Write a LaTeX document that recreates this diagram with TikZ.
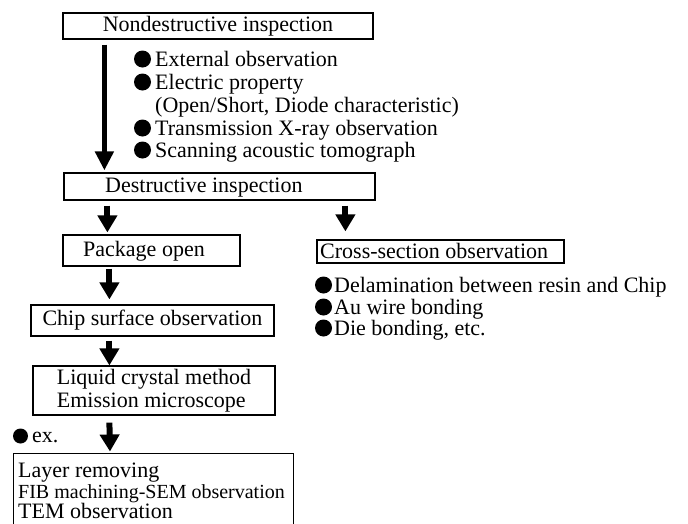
\documentclass[tikz,border=0pt]{standalone}
\usepackage{fontspec}
\setmainfont{Liberation Serif}
\usetikzlibrary{arrows.meta}
\begin{document}
\begin{tikzpicture}[x=1pt,y=-1pt,
  every node/.style={font=\fontsize{22}{23}\selectfont},
  box/.style={draw,line width=1.2pt,inner sep=0pt},
  txt/.style={anchor=base west,inner sep=0pt},
  dot/.style={circle,fill=black,inner sep=0pt,minimum size=17pt},
  bigarrow/.style={line width=5.5pt,-{Triangle[length=19pt,width=18pt]}},
  smallarrow/.style={line width=6pt,-{Triangle[length=17pt,width=19pt]}}]
\useasboundingbox (0,0) rectangle (688,523);
\clip (0,0) rectangle (688,523);
\fill[white] (0,0) rectangle (688,523);

% boxes
\node[box,minimum width=310pt,minimum height=26pt] (nd) at (218,26) {Nondestructive inspection};
\node[box,minimum width=311pt,minimum height=27pt] (de) at (219.5,186.5) {};
\node[txt] (deT) at (105,192) {Destructive inspection};
\node[box,minimum width=177pt,minimum height=31pt] (po) at (151.5,250.5) {};
\node[txt] (poT) at (83,256) {Package open};
\node[box,minimum width=243pt,minimum height=31pt] (ch) at (152.5,320.5) {Chip surface observation};
\node[box,minimum width=242pt,minimum height=49pt,align=left] (lq) at (154,390.5) {Liquid crystal method\\Emission microscope};
\node[box,minimum width=247pt,minimum height=23pt] (cs) at (440.5,251.5) {};
\node[txt] (csT) at (320,258) {Cross-section observation};
\node[box,anchor=north west,minimum width=280pt,minimum height=90pt] (rm) at (13,452.5) {};
\node[txt] (rm1) at (18,477) {Layer removing};
\node[txt,font=\fontsize{20}{20}\selectfont] (rm2) at (18,498) {FIB machining-SEM observation};
\node[txt] (rm3) at (18,518) {TEM observation};

% bullet lists (top)
\node[dot] (d1) at (142.5,59) {};
\node[txt] (b1) at (155,66) {External observation};
\node[dot] (d2) at (142.5,82) {};
\node[txt] (b2) at (155,89) {Electric property};
\node[txt] (b2b) at (155,112) {(Open/Short, Diode characteristic)};
\node[dot] (d3) at (142.5,128) {};
\node[txt] (b3) at (155,135) {Transmission X-ray observation};
\node[dot] (d4) at (142.5,150) {};
\node[txt] (b4) at (155,157) {Scanning acoustic tomograph};
% bullet list (right)
\node[dot] (e1) at (323.5,285) {};
\node[txt] (c1) at (334,292) {Delamination between resin and Chip};
\node[dot] (e2) at (323.5,307) {};
\node[txt] (c2) at (334,314) {Au wire bonding};
\node[dot] (e3) at (323.5,328) {};
\node[txt] (c3) at (334,335) {Die bonding, etc.};
% ex.
\node[dot,minimum size=15pt] (e0) at (20.5,436) {};
\node[txt] (ex) at (32,442) {ex.};

% arrows
\draw[bigarrow] ([xshift=42pt,yshift=-5pt]nd.south west) -- ([xshift=41pt,yshift=2pt]de.north west);
\draw[smallarrow] ([xshift=44pt,yshift=-5pt]de.south west) -- ([xshift=45pt,yshift=2pt]po.north west);
\draw[smallarrow] ([xshift=282pt,yshift=-5pt]de.south west) -- ([xshift=29pt,yshift=8pt]cs.north west);
\draw[smallarrow] ([xshift=47pt,yshift=-2pt]po.south west) -- ([xshift=79pt,yshift=5pt]ch.north west);
\draw[smallarrow] ([xshift=79pt,yshift=-4pt]ch.south west) -- ([xshift=77pt,yshift=0pt]lq.north west);
\draw[smallarrow] ([xshift=77pt,yshift=-7pt]lq.south west) -- ([xshift=97pt,yshift=1pt]rm.north west);
\end{tikzpicture}
\end{document}
